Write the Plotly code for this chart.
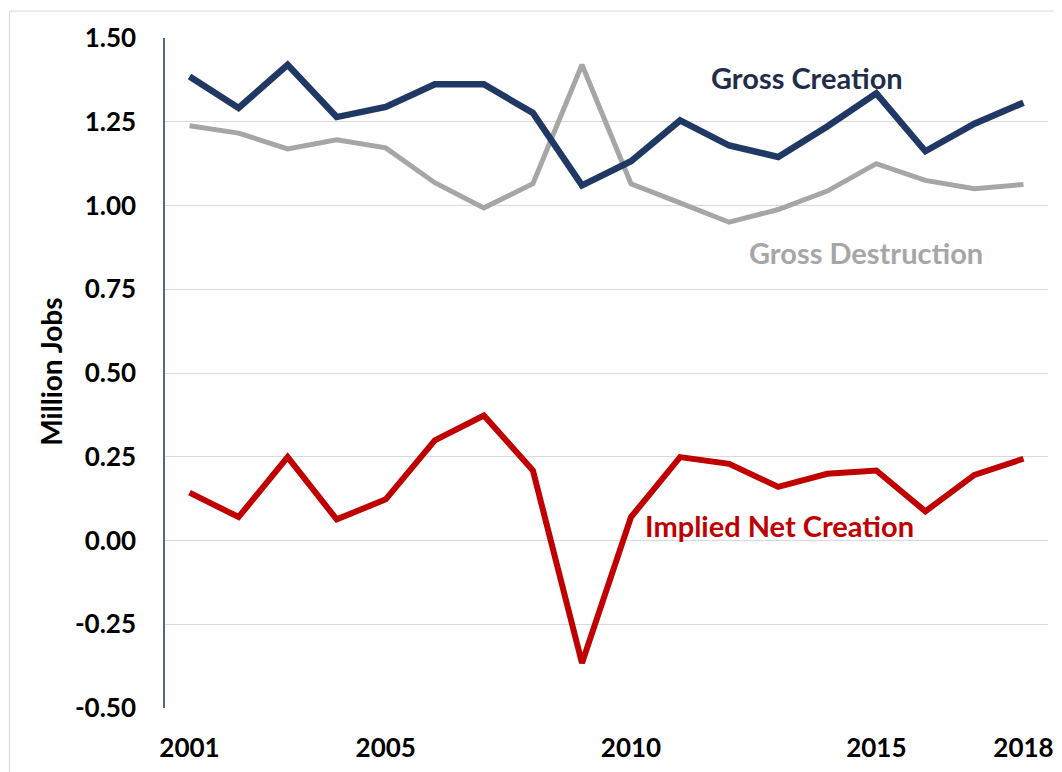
import plotly.graph_objects as go

years = list(range(2001, 2019))
gross_creation = [1.385, 1.291, 1.420, 1.264, 1.294, 1.362, 1.362, 1.276, 1.060,
                  1.132, 1.254, 1.179, 1.145, 1.236, 1.335, 1.162, 1.244, 1.307]
gross_destruction = [1.238, 1.216, 1.169, 1.196, 1.172, 1.068, 0.993, 1.065, 1.420,
                     1.065, 1.008, 0.950, 0.988, 1.043, 1.125, 1.075, 1.050, 1.063]
net_creation = [0.143, 0.070, 0.249, 0.063, 0.123, 0.299, 0.373, 0.209, -0.366,
                0.070, 0.249, 0.229, 0.160, 0.199, 0.209, 0.087, 0.196, 0.244]
x_ticks = [2001, 2005, 2010, 2015, 2018]
y_ticks = [-0.5, -0.25, 0, 0.25, 0.5, 0.75, 1.0, 1.25, 1.5]

FONT = "Lato"
NAVY = "#1F3864"
GRAY = "#A6A6A6"
RED = "#C00000"

fig = go.Figure()
fig.add_trace(go.Scatter(x=years, y=gross_destruction, mode="lines",
                         line=dict(color=GRAY, width=5), name="Gross Destruction"))
fig.add_trace(go.Scatter(x=years, y=gross_creation, mode="lines",
                         line=dict(color=NAVY, width=6.5), name="Gross Creation"))
fig.add_trace(go.Scatter(x=years, y=net_creation, mode="lines",
                         line=dict(color=RED, width=6), name="Implied Net Creation"))

labels = [
    ("Gross Creation", 2013.58, 1.381, "#1F2D4A"),
    ("Gross Destruction", 2014.78, 0.860, GRAY),
    ("Implied Net Creation", 2013.02, 0.045, RED),
]
for txt, lx, ly, col in labels:
    fig.add_annotation(x=lx, y=ly, xref="x", yref="y", text=txt, showarrow=False,
                       font=dict(family=FONT, size=29, color=col, weight="bold"),
                       xanchor="center", yanchor="middle")

fig.add_annotation(x=-0.1295, y=0.5015, xref="paper", yref="paper", text="Million Jobs",
                   textangle=-90, showarrow=False,
                   font=dict(family=FONT, size=28, color="black", weight="bold"),
                   xanchor="center", yanchor="middle")

fig.add_shape(type="rect", xref="paper", yref="paper", x0=-0.1762, y0=-0.2, x1=1.05, y1=1.0402,
              line=dict(color="#D9D9D9", width=1), fillcolor="rgba(0,0,0,0)", layer="below")

fig.update_layout(
    width=1054, height=764,
    margin=dict(l=157, r=9, t=30, b=62),
    paper_bgcolor="white", plot_bgcolor="white",
    showlegend=False,
    xaxis=dict(range=[2000.5, 2018.5], tickvals=x_ticks, ticktext=[str(v) for v in x_ticks],
               showgrid=False, zeroline=False, showline=False, ticks="",
               ticklabelstandoff=22,
               tickfont=dict(family=FONT, size=26, color="black", weight="bold")),
    yaxis=dict(range=[-0.5, 1.5], tickvals=y_ticks, ticktext=[f"{v:.2f}" for v in y_ticks],
               showgrid=True, gridcolor="#D9D9D9", gridwidth=1, zeroline=False,
               showline=True, linecolor="#4F6A92", linewidth=1.5, ticks="",
               ticklabelstandoff=22,
               tickfont=dict(family=FONT, size=26, color="black", weight="bold")),
)

fig.write_html("out.html")
